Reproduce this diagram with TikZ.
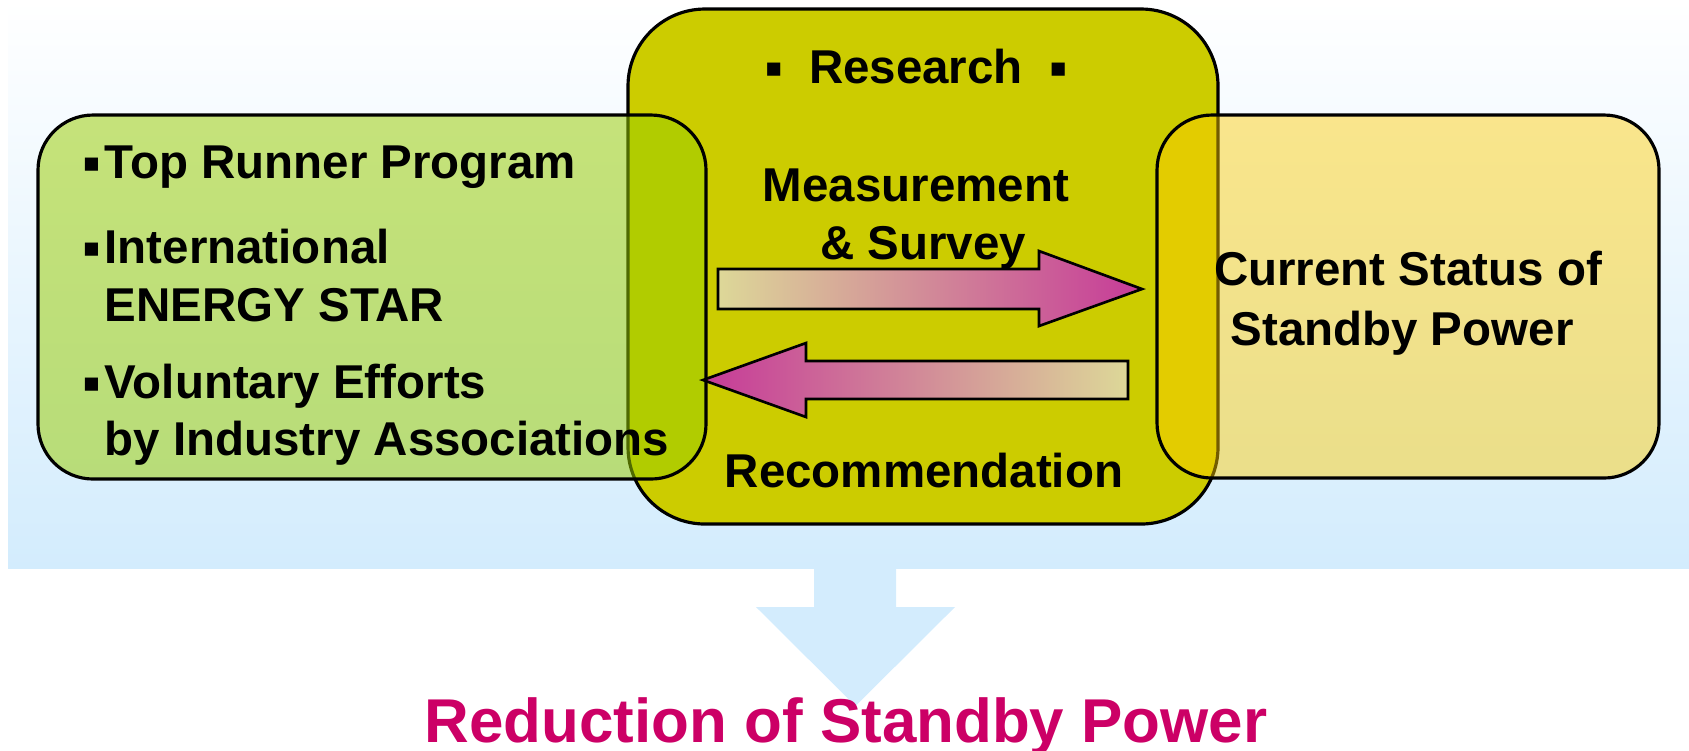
\documentclass[tikz,border=0pt]{standalone}
\usepackage{fontspec}
\setmainfont{Liberation Sans}
\newfontfamily\symfont{DejaVu Sans}

\definecolor{researchfill}{HTML}{CCCC00}
\definecolor{policyfill}{HTML}{99CC00}
\definecolor{statusfill}{HTML}{FFCC00}
\definecolor{tailfill}{HTML}{DDD898}
\definecolor{midfill}{HTML}{D8B49A}
\definecolor{headfill}{HTML}{C63A98}
\definecolor{skyfill}{HTML}{D3ECFD}
\definecolor{titlefill}{HTML}{CC0066}

\newcommand{\blt}{{\symfont\fontsize{7.5}{8}\selectfont\raisebox{0.45ex}{▪}}}

\tikzset{
  lbl/.style={font=\fontsize{13.5}{16}\selectfont\bfseries, inner sep=0pt},
  lblL/.style={lbl, anchor=base west},
  lblC/.style={lbl, anchor=base},
  sidebox/.style={draw=black, line width=0.9pt, rounded corners=0.55cm, fill opacity=0.55},
  blockarrow/.style={draw=black, line width=0.75pt}
}

\begin{document}
\begin{tikzpicture}[x=0.01cm, y=-0.01cm]
    \useasboundingbox (0,0) rectangle (1689,750);

    % 背景
    \shade[top color=white, bottom color=skyfill] (8,0) rectangle (1689,568);
    \fill[skyfill] (814,560) -- (896,560) -- (896,607) -- (955,607)
        -- (855.5,706) -- (756,607) -- (814,607) -- cycle;

    % 箱を描く
    \draw[fill=researchfill, line width=0.9pt, rounded corners=0.77cm] (628,9) rectangle (1218,524);
    \draw[sidebox, fill=policyfill, fill opacity=0.52] (38,115) rectangle (706,479);
    \draw[sidebox, fill=statusfill, fill opacity=0.45] (1157,115) rectangle (1659,478);

    % 矢印
    \draw[blockarrow, left color=tailfill, middle color=midfill, right color=headfill]
        (718,269) -- (1039,269) -- (1039,251) -- (1142,289)
        -- (1039,326) -- (1039,309) -- (718,309) -- cycle;
    \draw[blockarrow, left color=headfill, middle color=midfill, right color=tailfill]
        (1128,361) -- (806,361) -- (806,343) -- (703,380)
        -- (806,417) -- (806,399) -- (1128,399) -- cycle;

    % 文字を入れる
    \node[lblL] (b1) at (82,178) {\blt};
    \node[lblL] (topRunner) at (104,178) {Top Runner Program};
    \node[lblL] (b2) at (82,263) {\blt};
    \node[lblL] (intl) at (104,263) {International};
    \node[lblL] (energyStar) at (104,321) {ENERGY STAR};
    \node[lblL] (b3) at (82,398) {\blt};
    \node[lblL] (voluntary) at (104,398) {Voluntary Efforts};
    \node[lblL] (industry) at (104,455) {by Industry Associations};

    \node[lblC] (research) at (916,83) {\blt\ \ Research\ \ \blt};
    \node[lblC] (measure) at (916,201) {Measurement};
    \node[lblC] (survey) at (923,259) {\& Survey};
    \node[lblC] (recommend) at (924,487) {Recommendation};

    \node[lblC] (status) at (1408,285) {Current Status of};
    \node[lblC] (standby) at (1402,345) {Standby Power};

    \node[font=\fontsize{17.6}{20}\selectfont\bfseries, text=titlefill, anchor=base, inner sep=0pt]
        (goal) at (846,742) {Reduction of Standby Power};

\end{tikzpicture}
\end{document}
